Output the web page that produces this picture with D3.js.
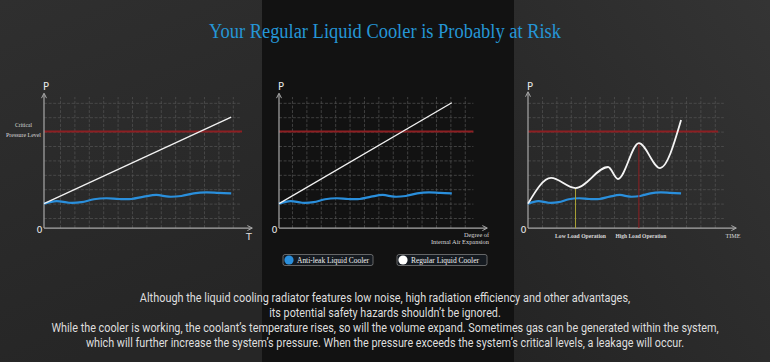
<!DOCTYPE html>
<html>
<head>
<meta charset="utf-8">
<script src="https://cdn.jsdelivr.net/npm/d3@7/dist/d3.min.js"></script>
<style>
  body { margin: 0; background: #1a1a1a; }
</style>
</head>
<body>
<div id="chart_area"></div>
<script>

// ---- data (P in grid cells, x in grid cells from the axis) ----
var pressureGrid = [0, 1, 2, 3, 4, 5, 6, 7, 8];
var criticalLevel = 6;
var antiLeakPressure = [1.0, 1.17, 1.06, 1.1, 1.3, 1.37, 1.32, 1.32, 1.48, 1.6, 1.48, 1.53, 1.71, 1.78, 1.74, 1.71];
var regularTempRise = [1, 7];
var regularAirExpansion = [1, 8];
var regularTimeX = [0, 1.6, 3.3, 5.56, 6.25, 7.7, 9.17, 10.63];
var regularTimeP = [1.0, 2.78, 2.08, 3.54, 2.71, 5.2, 3.47, 6.8];
var loadLabels = ["Low Load Operation", "High Load Operation"];
var loadIndex = [2, 5];
var legendLabels = ["Anti-leak Liquid Cooler", "Regular Liquid Cooler"];
var paragraph = [
  "Although the liquid cooling radiator features low noise, high radiation efficiency and other advantages,",
  "its potential safety hazards shouldn\u2019t be ignored.",
  "While the cooler is working, the coolant\u2019s temperature rises, so will the volume expand. Sometimes gas can be generated within the system,",
  "which will further increase the system\u2019s pressure. When the pressure exceeds the system\u2019s critical levels, a leakage will occur."
];

var width = 770, height = 362;
var cell = 14.4;
var blue = "#2a8fdc", red = "#8e1f22";
var serif = "'Liberation Serif', 'DejaVu Serif', serif";
var sans = "'DejaVu Sans', sans-serif";

var svg = d3.select("#chart_area").append("svg")
    .attr("width", width)
    .attr("height", height);

// small helper for fitted text
function label(parent, x, yy, txt, size, len, anchor, fam, fill) {
  var t = parent.append("text")
      .attr("x", x).attr("y", yy)
      .attr("text-anchor", anchor || "middle")
      .attr("font-family", fam || serif)
      .attr("font-size", size)
      .attr("fill", fill || "#d8d8d8")
      .text(txt);
  if (len) t.attr("textLength", len).attr("lengthAdjust", "spacingAndGlyphs");
  return t;
}

// horizontally squeezed text (keeps the real box inside the page)
function squeezed(parent, cx, yy, txt, size, len, fam, fill) {
  var t = parent.append("text")
      .attr("x", 0).attr("y", 0)
      .attr("text-anchor", "middle")
      .attr("font-family", fam)
      .attr("font-size", size)
      .attr("fill", fill)
      .text(txt);
  var natural = t.node().getComputedTextLength();
  var sx = natural > 0 ? len / natural : 1;
  t.attr("transform", "translate(" + cx + "," + yy + ") scale(" + sx + ",1)");
  return t;
}

var defs = svg.append("defs");
var g1 = defs.append("linearGradient").attr("id", "leftBg").attr("x1", 0).attr("y1", 0).attr("x2", 0.3).attr("y2", 1);
g1.append("stop").attr("offset", "0%").attr("stop-color", "#2f2f2f");
g1.append("stop").attr("offset", "100%").attr("stop-color", "#262626");
var g2 = defs.append("linearGradient").attr("id", "rightBg").attr("x1", 1).attr("y1", 0).attr("x2", 0).attr("y2", 1);
g2.append("stop").attr("offset", "0%").attr("stop-color", "#343434");
g2.append("stop").attr("offset", "100%").attr("stop-color", "#242424");

// background panels
svg.append("rect").attr("x", 0).attr("y", 0).attr("width", 262).attr("height", height).attr("fill", "url(#leftBg)");
svg.append("rect").attr("x", 262).attr("y", 0).attr("width", 252).attr("height", height).attr("fill", "#121212");
svg.append("rect").attr("x", 514).attr("y", 0).attr("width", 256).attr("height", height).attr("fill", "url(#rightBg)");

// title
label(svg, 385, 38, "Your Regular Liquid Cooler is Probably at Risk", 20, 352, "middle", serif, "#2596d6");

// shared pressure scale
var y = d3.scaleLinear().domain([0, 1]).range([218, 218 - cell]);
var yAxisZero = -0.7;

// panel layouts
var panels = [
  { ox: 44,  gridOff: 1.11, gridEnd: 13.6, redEnd: 13.75, yTop: 8.6 },
  { ox: 279, gridOff: 0.9,  gridEnd: 13.5, redEnd: 13.5,  yTop: 8.6 },
  { ox: 528, gridOff: 0.97, gridEnd: 13.6, redEnd: 13.2,  yTop: 8.7 }
];

function drawPanel(p, lineEnd) {
  var x = d3.scaleLinear().domain([0, 1]).range([p.ox, p.ox + cell]);
  var g = svg.append("g");

  // dashed grid via axes
  var vTicks = d3.range(13).map(function(k) { return p.gridOff + k; });
  g.append("g")
      .attr("class", "grid")
      .attr("transform", "translate(0," + y(yAxisZero) + ")")
      .call(d3.axisBottom(x).tickValues(vTicks).tickSize(-(y(yAxisZero) - y(8.4))).tickFormat(""));
  g.append("g")
      .attr("class", "grid")
      .attr("transform", "translate(" + p.ox + ",0)")
      .call(d3.axisLeft(y).tickValues(pressureGrid).tickSize(-(x(p.gridEnd) - p.ox)).tickFormat(""));
  g.selectAll(".grid .domain").remove();
  g.selectAll(".grid line")
      .attr("stroke", "#555")
      .attr("stroke-width", 0.7)
      .attr("stroke-dasharray", "3,1.6");

  // critical level
  g.append("line")
      .attr("x1", p.ox).attr("x2", x(p.redEnd))
      .attr("y1", y(criticalLevel)).attr("y2", y(criticalLevel))
      .attr("stroke", red).attr("stroke-width", 2);

  // axes with arrows
  var ax = "#a8a8a8";
  g.append("line").attr("x1", p.ox).attr("x2", p.ox).attr("y1", y(yAxisZero)).attr("y2", y(p.yTop))
      .attr("stroke", ax).attr("stroke-width", 1.2);
  g.append("line").attr("x1", p.ox).attr("x2", x(14.4)).attr("y1", y(yAxisZero)).attr("y2", y(yAxisZero))
      .attr("stroke", ax).attr("stroke-width", 1.2);
  g.append("path")
      .attr("d", "M" + (p.ox - 2.5) + "," + (y(p.yTop) + 4) + "L" + p.ox + "," + (y(p.yTop) - 1) + "L" + (p.ox + 2.5) + "," + (y(p.yTop) + 4))
      .attr("fill", "none").attr("stroke", ax).attr("stroke-width", 1);
  g.append("path")
      .attr("d", "M" + (x(14.4) - 4) + "," + (y(yAxisZero) - 2.5) + "L" + (x(14.4) + 1) + "," + y(yAxisZero) + "L" + (x(14.4) - 4) + "," + (y(yAxisZero) + 2.5))
      .attr("fill", "none").attr("stroke", ax).attr("stroke-width", 1);

  label(g, p.ox + 2, 90, "P", 10, null, "middle", sans, "#e8e8e8");
  label(g, p.ox - 4.5, 233, "0", 9.5, null, "middle", sans, "#e8e8e8");

  // anti-leak line
  var step = lineEnd / (antiLeakPressure.length - 1);
  var blueLine = d3.line()
      .x(function(d, i) { return x(i * step); })
      .y(function(d) { return y(d); })
      .curve(d3.curveCatmullRom);
  g.append("path")
      .datum(antiLeakPressure)
      .attr("d", blueLine)
      .attr("fill", "none").attr("stroke", blue).attr("stroke-width", 2.2);

  return { g: g, x: x };
}

// panel 1 : temperature
var c1 = drawPanel(panels[0], 13);
c1.g.append("line")
    .attr("x1", c1.x(0)).attr("y1", y(regularTempRise[0]))
    .attr("x2", c1.x(13)).attr("y2", y(regularTempRise[1]))
    .attr("stroke", "#f2f2f2").attr("stroke-width", 1.3);
label(c1.g, 23.5, 127, "Critical", 6.5, 17);
label(c1.g, 23.5, 137, "Pressure Level", 6.5, 35);
label(c1.g, 249, 240, "T", 9.5, null, "middle", sans, "#e0e0e0");

// panel 2 : air expansion
var c2 = drawPanel(panels[1], 12);
c2.g.append("line")
    .attr("x1", c2.x(0)).attr("y1", y(regularAirExpansion[0]))
    .attr("x2", c2.x(12)).attr("y2", y(regularAirExpansion[1]))
    .attr("stroke", "#f2f2f2").attr("stroke-width", 1.3);
label(c2.g, 489, 237, "Degree of", 6.8, 25, "end");
label(c2.g, 489, 243.5, "Internal Air Expansion", 6.8, 58, "end");

// panel 3 : time
var c3 = drawPanel(panels[2], regularTimeX[regularTimeX.length - 1]);
var loadColors = ["#aaa236", red];
var loadOffset = [5, 2];
loadIndex.forEach(function(idx, i) {
  c3.g.append("line")
      .attr("x1", c3.x(regularTimeX[idx])).attr("x2", c3.x(regularTimeX[idx]))
      .attr("y1", y(regularTimeP[idx])).attr("y2", y(yAxisZero))
      .attr("stroke", loadColors[i]).attr("stroke-width", 1);
  label(c3.g, c3.x(regularTimeX[idx]) + loadOffset[i], 237.5, loadLabels[i], 6.8, 51)
      .attr("font-weight", "bold");
});
var whiteCurve = d3.line()
    .x(function(d, i) { return c3.x(regularTimeX[i]); })
    .y(function(d) { return y(d); })
    .curve(d3.curveMonotoneX);
c3.g.append("path")
    .datum(regularTimeP)
    .attr("d", whiteCurve)
    .attr("fill", "none").attr("stroke", "#f4f4f4").attr("stroke-width", 1.8);
label(c3.g, 733, 238, "TIME", 6.8, 15);

// legend
var legendX = [283, 397];
var legendLen = [72, 68];
var legendColors = [blue, "#ffffff"];
legendLabels.forEach(function(txt, i) {
  var lg = svg.append("g").attr("transform", "translate(" + legendX[i] + ",254.5)");
  lg.append("rect").attr("width", 90).attr("height", 11).attr("rx", 2)
      .attr("fill", "#151a20").attr("stroke", "#8a8a8a").attr("stroke-width", 0.7);
  lg.append("circle").attr("cx", 6).attr("cy", 5.5).attr("r", 4.6).attr("fill", legendColors[i]);
  label(lg, 14, 8.3, txt, 7.3, legendLen[i], "start", serif, "#f0f0f0");
});

// paragraph
var paraWidths = [491, 232, 668, 599];
var paraY = [302, 317, 332, 347];
paragraph.forEach(function(line, i) {
  squeezed(svg, 385, paraY[i], line, 12.5, paraWidths[i], "Roboto, 'Liberation Sans', sans-serif", "#dedede");
});

</script>
</body>
</html>
